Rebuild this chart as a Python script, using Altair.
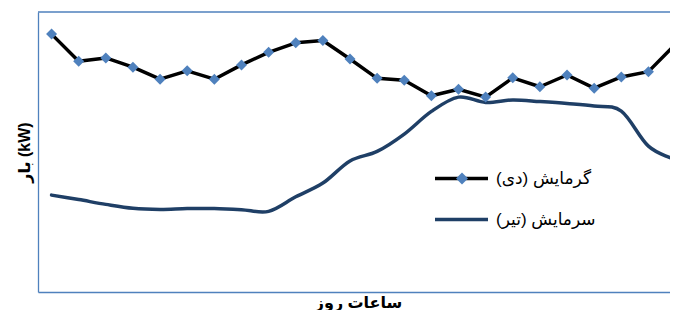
import altair as alt
import pandas as pd

# ---- data (arbitrary kW units, axis has no tick labels) ----
hours = list(range(1, 25))
heating = [92.1, 82.4, 83.6, 80.3, 76.0, 79.0, 76.0, 81.1, 85.6, 89.0, 89.8, 83.2,
           76.3, 75.6, 70.1, 72.4, 69.6, 76.5, 73.3, 77.5, 72.8, 76.8, 78.7, 88.5]
cooling = [34.6, 33.0, 31.3, 29.9, 29.5, 29.8, 29.8, 29.4, 28.8, 34.0, 38.9, 46.8,
           50.2, 56.4, 64.5, 69.6, 67.7, 68.6, 68.0, 67.3, 66.4, 64.6, 52.1, 47.3]
heat_name = "گرمایش (دی)"
cool_name = "سرمایش (تیر)"
x_title = "ساعات روز"
y_title = "بار (kW)"

df = pd.DataFrame({
    "hour": hours + hours,
    "load": heating + cooling,
    "series": [heat_name] * 24 + [cool_name] * 24,
})
df_heat = pd.DataFrame({"hour": hours, "load": heating, "marker": [heat_name] * 24})

FONT = "Liberation Sans, DejaVu Sans, sans-serif"
BORDER = "#4F81BD"
W, H = 632, 280
band = 27.13

x_enc = alt.X("hour:Q", title=x_title,
              scale=alt.Scale(domain=[0.5, 0.5 + W / band], nice=False, zero=False),
              axis=alt.Axis(labels=False, ticks=False, grid=False, domain=True,
                            domainColor=BORDER, domainWidth=1.3,
                            titleBaseline="alphabetic", titleY=15, titleX=320))
y_enc = alt.Y("load:Q", title=y_title,
              scale=alt.Scale(domain=[0, 100], nice=False),
              axis=alt.Axis(labels=False, ticks=False, grid=False, domain=True,
                            domainColor=BORDER, domainWidth=1.3, titlePadding=6))

color_enc = alt.Color(
    "series:N",
    scale=alt.Scale(domain=[heat_name, cool_name], range=["#000000", "#1F3F66"]),
    legend=alt.Legend(orient="none", legendX=415, legendY=158, title=None,
                      symbolType="M-5.3,0H5.3", symbolSize=100,
                      symbolStrokeWidth=3.5, labelFont=FONT, labelFontSize=17,
                      labelColor="#000000", labelOffset=26, rowPadding=23,
                      padding=0))

cool_line = alt.Chart(df).transform_filter(alt.datum.series == cool_name).mark_line(
    strokeWidth=3.5, strokeJoin="round", strokeCap="round", interpolate="cardinal").encode(
    x=x_enc, y=y_enc, color=color_enc)

heat_line = alt.Chart(df).transform_filter(alt.datum.series == heat_name).mark_line(
    strokeWidth=3.5, strokeJoin="round", strokeCap="round").encode(
    x=x_enc, y=y_enc, color=color_enc)

points = alt.Chart(df_heat).mark_point(shape="diamond", filled=True, size=121, opacity=1,
                                       strokeWidth=0).encode(
    x=x_enc, y=y_enc,
    fill=alt.Fill("marker:N", scale=alt.Scale(domain=[heat_name], range=["#4F81BD"]),
                  legend=alt.Legend(orient="none", legendX=415.5, legendY=158, title=None,
                                    symbolType="diamond", symbolSize=144, symbolStrokeWidth=0,
                                    labelFont=FONT, labelFontSize=17, labelOpacity=0,
                                    labelOffset=26, padding=0)),
)

top_border = alt.Chart(pd.DataFrame({"k": [0]})).mark_rule(color=BORDER, strokeWidth=1.3).encode(
    x=alt.value(0), x2=alt.value("width"), y=alt.value(0))

chart = alt.layer(cool_line, heat_line, points, top_border).properties(
    width=W, height=H,
    autosize=alt.AutoSizeParams(type="none"),
    padding={"left": 30, "top": 4, "right": 0, "bottom": 18},
).configure_view(strokeWidth=0, strokeOpacity=0).configure_axis(
    titleFont=FONT, titleFontSize=16, titleFontWeight="bold", titleColor="#000000"
)

chart.save("out.html", embed_options={"renderer": "svg", "actions": False})
